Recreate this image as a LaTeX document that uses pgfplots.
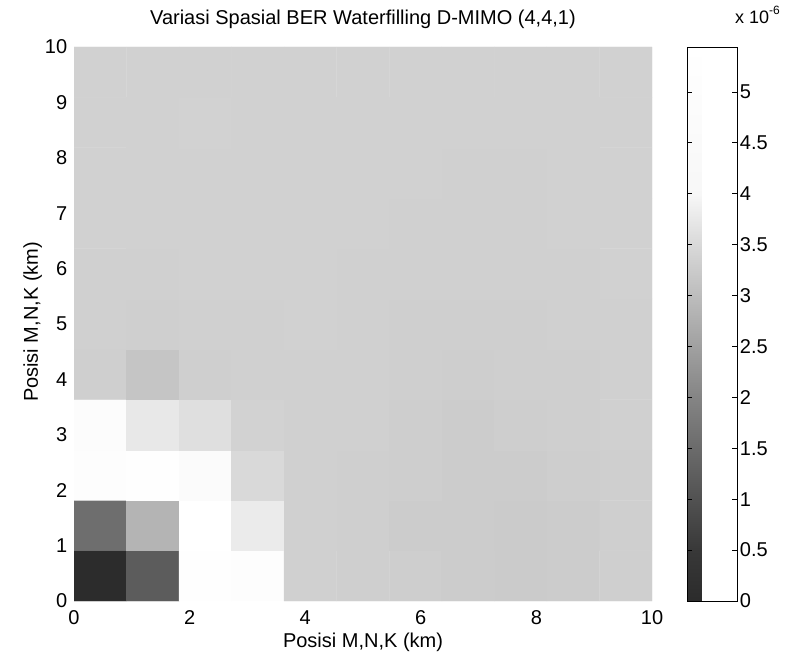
\documentclass[border=0pt]{standalone}
\usepackage{pgfplots}
\pgfplotsset{compat=1.18}
\usepackage{pgfplotstable}
\usepackage{fontspec}
\setmainfont{Liberation Sans}

% BER (x 1e-6) on an 11 x 11 grid of positions, cell centres in km
\pgfplotstableread{
x y c
0.4545 0.4545 0.02
1.3636 0.4545 1.20
2.2727 0.4545 5.20
3.1818 0.4545 5.05
4.0909 0.4545 3.35
5.0000 0.4545 3.32
5.9091 0.4545 3.30
6.8182 0.4545 3.28
7.7273 0.4545 3.25
8.6364 0.4545 3.28
9.5455 0.4545 3.32
0.4545 1.3636 1.55
1.3636 1.3636 2.85
2.2727 1.3636 5.44
3.1818 1.3636 3.80
4.0909 1.3636 3.35
5.0000 1.3636 3.32
5.9091 1.3636 3.28
6.8182 1.3636 3.27
7.7273 1.3636 3.25
8.6364 1.3636 3.27
9.5455 1.3636 3.32
0.4545 2.2727 5.10
1.3636 2.2727 5.25
2.2727 2.2727 4.70
3.1818 2.2727 3.50
4.0909 2.2727 3.35
5.0000 2.2727 3.32
5.9091 2.2727 3.30
6.8182 2.2727 3.28
7.7273 2.2727 3.28
8.6364 2.2727 3.30
9.5455 2.2727 3.32
0.4545 3.1818 4.90
1.3636 3.1818 3.75
2.2727 3.1818 3.60
3.1818 3.1818 3.38
4.0909 3.1818 3.35
5.0000 3.1818 3.35
5.9091 3.1818 3.30
6.8182 3.1818 3.28
7.7273 3.1818 3.30
8.6364 3.1818 3.32
9.5455 3.1818 3.35
0.4545 4.0909 3.32
1.3636 4.0909 3.15
2.2727 4.0909 3.32
3.1818 4.0909 3.35
4.0909 4.0909 3.35
5.0000 4.0909 3.35
5.9091 4.0909 3.32
6.8182 4.0909 3.30
7.7273 4.0909 3.32
8.6364 4.0909 3.32
9.5455 4.0909 3.35
0.4545 5.0000 3.35
1.3636 5.0000 3.33
2.2727 5.0000 3.35
3.1818 5.0000 3.35
4.0909 5.0000 3.37
5.0000 5.0000 3.35
5.9091 5.0000 3.33
6.8182 5.0000 3.33
7.7273 5.0000 3.33
8.6364 5.0000 3.35
9.5455 5.0000 3.35
0.4545 5.9091 3.35
1.3636 5.9091 3.35
2.2727 5.9091 3.37
3.1818 5.9091 3.37
4.0909 5.9091 3.37
5.0000 5.9091 3.35
5.9091 5.9091 3.35
6.8182 5.9091 3.35
7.7273 5.9091 3.35
8.6364 5.9091 3.35
9.5455 5.9091 3.37
0.4545 6.8182 3.37
1.3636 6.8182 3.37
2.2727 6.8182 3.37
3.1818 6.8182 3.37
4.0909 6.8182 3.37
5.0000 6.8182 3.37
5.9091 6.8182 3.35
6.8182 6.8182 3.35
7.7273 6.8182 3.35
8.6364 6.8182 3.37
9.5455 6.8182 3.37
0.4545 7.7273 3.37
1.3636 7.7273 3.37
2.2727 7.7273 3.37
3.1818 7.7273 3.37
4.0909 7.7273 3.37
5.0000 7.7273 3.37
5.9091 7.7273 3.37
6.8182 7.7273 3.35
7.7273 7.7273 3.35
8.6364 7.7273 3.37
9.5455 7.7273 3.37
0.4545 8.6364 3.37
1.3636 8.6364 3.37
2.2727 8.6364 3.38
3.1818 8.6364 3.37
4.0909 8.6364 3.37
5.0000 8.6364 3.37
5.9091 8.6364 3.37
6.8182 8.6364 3.37
7.7273 8.6364 3.37
8.6364 8.6364 3.37
9.5455 8.6364 3.37
0.4545 9.5455 3.37
1.3636 9.5455 3.37
2.2727 9.5455 3.37
3.1818 9.5455 3.37
4.0909 9.5455 3.37
5.0000 9.5455 3.37
5.9091 9.5455 3.37
6.8182 9.5455 3.37
7.7273 9.5455 3.37
8.6364 9.5455 3.37
9.5455 9.5455 3.37
}\bermap

\begin{document}
\fontsize{20}{24}\selectfont
\begin{tikzpicture}[x=1pt,y=1pt]
\useasboundingbox (0,0) rectangle (787,664);
\begin{axis}[
  name=main,
  at={(74pt,63pt)}, anchor=south west,
  width=578pt, height=554pt, scale only axis,
  xmin=0, xmax=10, ymin=0, ymax=10,
  xtick={0,2,...,10}, ytick={0,1,...,10},
  axis line style={draw=none}, tick style={draw=none},
  /pgf/number format/assume math mode=true,
  tick label style={font=\fontsize{20}{24}\selectfont},
  xticklabel style={anchor=base, yshift=-23pt},
  title={Variasi Spasial BER Waterfilling D-MIMO (4,4,1)},
  title style={at={(0.5,1)}, anchor=base, yshift=16pt, font=\fontsize{20}{24}\selectfont},
  xlabel={Posisi M,N,K (km)},
  xlabel style={at={(0.5,0)}, anchor=base, yshift=-46pt, font=\fontsize{20}{24}\selectfont},
  colormap={scangray}{gray(0pt)=(0.17); gray(50pt)=(0.22); gray(100pt)=(0.32);
    gray(150pt)=(0.42); gray(200pt)=(0.52); gray(250pt)=(0.63); gray(300pt)=(0.74);
    gray(350pt)=(0.85); gray(400pt)=(0.97); gray(544pt)=(1)},
  point meta min=0, point meta max=5.44,
  colorbar,
  colorbar style={
    at={(parent axis.north east)}, anchor=north west, xshift=26.5pt,
    width=50pt,
    ytick={0,0.5,...,5},
    axis on top,
    yticklabel pos=right, ytick align=inside,
    major tick length=5pt,
    y tick style={black, line width=0.6pt},
    axis line style={black, line width=0.8pt},
    /pgf/number format/assume math mode=true,
    /pgf/number format/fixed,
    yticklabel style={font=\fontsize{20}{24}\selectfont, xshift=-4pt},
  },
]
\addplot[matrix plot*, mesh/cols=11, point meta=explicit] table[x=x, y=y, meta=c] {\bermap};
\end{axis}
% inward ticks along both edges of the colour scale
\begin{axis}[
  at={(687pt,63pt)}, anchor=south west,
  width=50pt, height=554pt, scale only axis,
  xmin=0, xmax=1, ymin=0, ymax=5.44,
  xtick=\empty, ytick={0,0.5,...,5}, yticklabels={},
  ytick pos=both, tick align=inside, major tick length=5pt,
  axis line style={draw=none},
  y tick style={black, line width=0.6pt},
]
\end{axis}
\node[rotate=90, anchor=base, font=\fontsize{20}{24}\selectfont] at (38,342) {Posisi M,N,K (km)};
\node[anchor=base west, inner sep=0pt, font=\fontsize{18}{22}\selectfont] at (735,640) {x 10\raisebox{9pt}{\fontsize{12}{14}\selectfont -6}};
\end{tikzpicture}
\end{document}
